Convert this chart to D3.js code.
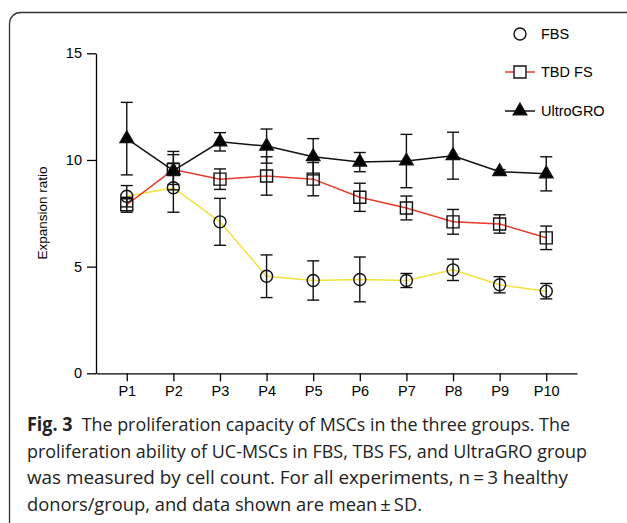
<!DOCTYPE html>
<html>
<head>
<meta charset="utf-8">
<script src="https://cdn.jsdelivr.net/npm/d3@7"></script>
<style>
  body { margin: 0; background: #fff; }
  svg { display: block; }
</style>
</head>
<body>
<div id="chart"></div>
<script>
const categories = ["P1", "P2", "P3", "P4", "P5", "P6", "P7", "P8", "P9", "P10"];
const yTicks = [0, 5, 10, 15];

const fbsMean = [8.3, 8.7, 7.1, 4.55, 4.35, 4.4, 4.35, 4.85, 4.15, 3.85];
const fbsSd = [0.5, 1.15, 1.1, 1.0, 0.92, 1.05, 0.33, 0.5, 0.38, 0.36];
const tbdMean = [7.9, 9.55, 9.1, 9.25, 9.1, 8.25, 7.75, 7.1, 7.0, 6.35];
const tbdSd = [0.35, 0.7, 0.48, 0.9, 0.78, 0.66, 0.56, 0.58, 0.43, 0.55];
const ultroMean = [11.0, 9.5, 10.85, 10.65, 10.15, 9.9, 9.95, 10.2, 9.45, 9.35];
const ultroSd = [1.7, 0.9, 0.43, 0.8, 0.85, 0.45, 1.25, 1.1, 0.1, 0.8];

const captionLines = [
    ["Fig. 3", "  The proliferation capacity of MSCs in the three groups. The"],
    ["", "proliferation ability of UC-MSCs in FBS, TBS FS, and UltraGRO group"],
    ["", "was measured by cell count. For all experiments, n\u2009=\u20093 healthy"],
    ["", "donors/group, and data shown are mean\u2009\u00b1\u2009SD."]
];
const captionWidths = [543, 560, 541, 395];

const width = 627, height = 523;
const svg = d3.select("#chart").append("svg")
    .attr("width", width)
    .attr("height", height);

// figure frame
svg.append("rect")
    .attr("x", 9.5).attr("y", 12.5)
    .attr("width", 660).attr("height", 521)
    .attr("rx", 11)
    .attr("fill", "none")
    .attr("stroke", "#333")
    .attr("stroke-width", 1.3);

const x = d3.scalePoint().domain(categories).range([96, 577]).padding(0.66);
const y = d3.scaleLinear().domain([0, 15]).range([373.3, 53.3]);

const font = "'Liberation Sans', Arial, sans-serif";

const yAxis = d3.axisLeft(y).tickValues(yTicks).tickSize(9).tickPadding(5).tickSizeOuter(0);
const gy = svg.append("g").attr("transform", "translate(96,0)").call(yAxis);
gy.select(".domain").attr("stroke", "#000").attr("stroke-width", 1.3);
gy.selectAll(".tick line").attr("stroke", "#000").attr("stroke-width", 1.3);
gy.selectAll(".tick text").style("font-family", font).style("font-size", "14.5px").attr("fill", "#000");

const xAxis = d3.axisBottom(x).tickSize(8).tickPadding(4).tickSizeOuter(0);
const gx = svg.append("g").attr("transform", "translate(0,373.3)").call(xAxis);
gx.select(".domain").attr("stroke", "#000").attr("stroke-width", 1.3);
gx.selectAll(".tick line").attr("stroke", "#000").attr("stroke-width", 1.3);
gx.selectAll(".tick text").style("font-family", font).style("font-size", "14.5px").attr("fill", "#000");

svg.append("text")
    .attr("transform", "translate(47,213) rotate(-90)")
    .attr("text-anchor", "middle")
    .style("font-family", font)
    .style("font-size", "13.5px")
    .text("Expansion ratio");

const series = [
    {name: "FBS", mean: fbsMean, sd: fbsSd, color: "#f2e13c", symbol: d3.symbolCircle, size: 113, fill: "none"},
    {name: "TBD FS", mean: tbdMean, sd: tbdSd, color: "#e8392b", symbol: d3.symbolSquare, size: 144, fill: "none"},
    {name: "UltroGRO", mean: ultroMean, sd: ultroSd, color: "#111", symbol: d3.symbolTriangle, size: 78, fill: "#000"}
];

const line = d3.line()
    .x((d, i) => x(categories[i]))
    .y(d => y(d));

series.forEach(s => {
    svg.append("path")
        .datum(s.mean)
        .attr("fill", "none")
        .attr("stroke", s.color)
        .attr("stroke-width", 1.5)
        .attr("d", line);
});

const cap = 6;
series.forEach(s => {
    const g = svg.append("g").attr("stroke", "#111").attr("stroke-width", 1.4);
    s.mean.forEach((m, i) => {
        const cx = x(categories[i]);
        const top = y(m + s.sd[i]), bot = y(m - s.sd[i]);
        g.append("line").attr("x1", cx).attr("x2", cx).attr("y1", top).attr("y2", bot);
        g.append("line").attr("x1", cx - cap).attr("x2", cx + cap).attr("y1", top).attr("y2", top);
        g.append("line").attr("x1", cx - cap).attr("x2", cx + cap).attr("y1", bot).attr("y2", bot);
    });
});

series.forEach(s => {
    svg.append("g").selectAll("path")
        .data(s.mean)
        .enter()
        .append("path")
        .attr("transform", (d, i) => "translate(" + x(categories[i]) + "," + y(d) + ")")
        .attr("d", d3.symbol().type(s.symbol).size(s.size))
        .attr("fill", s.fill)
        .attr("stroke", "#111")
        .attr("stroke-width", 1.4);
});

// legend
const legendY = [34, 72, 111];
series.forEach((s, i) => {
    const g = svg.append("g").attr("transform", "translate(520," + legendY[i] + ")");
    if (i > 0) {
        g.append("line").attr("x1", -15).attr("x2", 15)
            .attr("stroke", s.color).attr("stroke-width", 1.5);
    }
    g.append("path")
        .attr("d", d3.symbol().type(s.symbol).size(s.size))
        .attr("fill", s.fill === "none" ? "#fff" : s.fill)
        .attr("stroke", "#111")
        .attr("stroke-width", 1.4);
    g.append("text")
        .attr("x", 21).attr("dy", "0.35em")
        .style("font-family", font)
        .style("font-size", "14.5px")
        .text(s.name);
});

// caption
const cap0 = 431;
captionLines.forEach((l, i) => {
    const t = svg.append("text")
        .attr("x", 27).attr("y", cap0 + i * 26.5)
        .attr("textLength", captionWidths[i])
        .attr("lengthAdjust", "spacingAndGlyphs")
        .style("font-family", "'Open Sans', 'Noto Sans', sans-serif")
        .style("font-size", "19px")
        .attr("fill", "#222")
        .attr("xml:space", "preserve")
        .style("white-space", "pre");
    if (l[0]) t.append("tspan").style("font-weight", "bold").text(l[0]);
    t.append("tspan").text(l[1]);
});
</script>
</body>
</html>
